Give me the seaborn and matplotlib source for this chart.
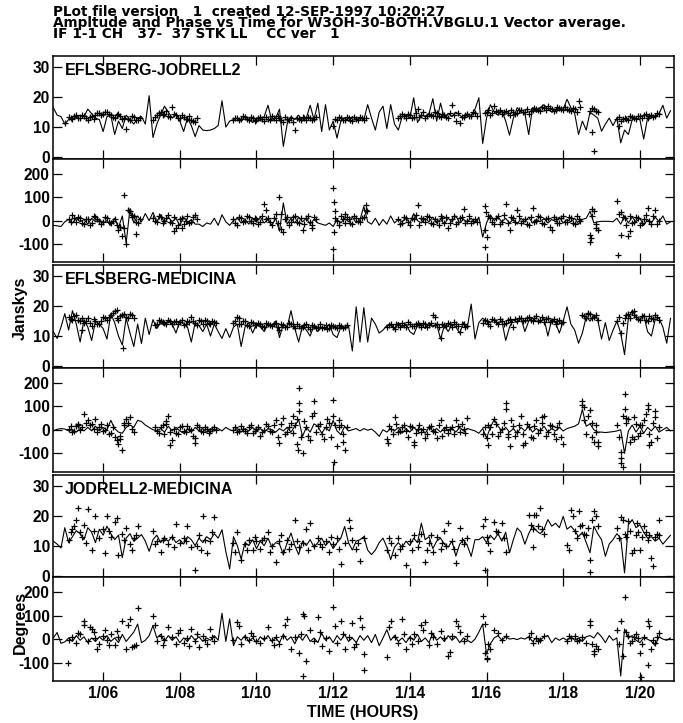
import matplotlib
matplotlib.use("Agg")
import numpy as np
import pandas as pd
import matplotlib.pyplot as plt
import seaborn as sns
from matplotlib.transforms import ScaledTranslation

# ---------------- text ----------------
title_lines = [
    "PLot file version   1  created 12-SEP-1997 10:20:27",
    "Ampltude and Phase vs Time for W3OH-30-BOTH.VBGLU.1 Vector average.",
    "IF 1-1 CH   37-  37 STK LL    CC ver   1",
]
baselines = ["EFLSBERG-JODRELL2", "EFLSBERG-MEDICINA", "JODRELL2-MEDICINA"]
amp_ticks = [0, 10, 20, 30]
phase_ticks = [-100, 0, 100, 200]
hour_ticks = [6, 8, 10, 12, 14, 16, 18, 20]
hour_labels = ["1/06", "1/08", "1/10", "1/12", "1/14", "1/16", "1/18", "1/20"]

# ---------------- model (line) sampling hours ----------------
line_hours = [
    4.7, 4.8, 4.9,
    5.0, 5.1, 5.2, 5.3, 5.4, 5.5, 5.6, 5.7, 5.8, 5.9,
    6.0, 6.1, 6.2, 6.3, 6.4, 6.5, 6.6, 6.7, 6.8, 6.9,
    7.0, 7.1, 7.2, 7.3, 7.4, 7.5, 7.6, 7.7, 7.8, 7.9,
    8.0, 8.1, 8.2, 8.3, 8.4, 8.5, 8.6, 8.7, 8.8, 8.9,
    9.0, 9.1, 9.2, 9.3, 9.4, 9.5, 9.6, 9.7, 9.8, 9.9,
    10.0, 10.1, 10.2, 10.3, 10.4, 10.5, 10.6, 10.7, 10.8, 10.9,
    11.0, 11.1, 11.2, 11.3, 11.4, 11.5, 11.6, 11.7, 11.8, 11.9,
    12.0, 12.1, 12.2, 12.3, 12.4, 12.5, 12.6, 12.7, 12.8, 12.9,
    13.0, 13.1, 13.2, 13.3, 13.4, 13.5, 13.6, 13.7, 13.8, 13.9,
    14.0, 14.1, 14.2, 14.3, 14.4, 14.5, 14.6, 14.7, 14.8, 14.9,
    15.0, 15.1, 15.2, 15.3, 15.4, 15.5, 15.6, 15.7, 15.8, 15.9,
    16.0, 16.1, 16.2, 16.3, 16.4, 16.5, 16.6, 16.7, 16.8, 16.9,
    17.0, 17.1, 17.2, 17.3, 17.4, 17.5, 17.6, 17.7, 17.8, 17.9,
    18.0, 18.1, 18.2, 18.3, 18.4, 18.5, 18.6, 18.7, 18.8, 18.9,
    19.0, 19.1, 19.2, 19.3, 19.4, 19.5, 19.6, 19.7, 19.8, 19.9,
    20.0, 20.1, 20.2, 20.3, 20.4, 20.5, 20.6, 20.7, 20.8,
]

ej_amp_model = [
    16.5, 14.0, 13.5,
    11.0, 12.5, 13.5, 13.0, 14.0, 13.5, 16.0, 14.5, 13.0, 12.5,
    8.5, 13.5, 14.0, 7.5, 12.0, 9.5, 14.0, 12.5, 11.0, 13.0,
    13.5, 11.0, 20.5, 6.5, 11.0, 14.0, 17.0, 15.0, 13.0, 14.5,
    12.0, 8.5, 13.0, 10.5, 6.8, 10.5, 9.0, 8.8, 9.0, 9.5,
    10.5, 18.8, 10.0, 12.0, 12.5, 13.0, 12.0, 13.5, 12.5, 11.5,
    13.0, 12.0, 13.5, 17.3, 12.0, 13.0, 16.0, 3.5, 11.0, 13.5,
    12.5, 14.0, 12.0, 13.0, 17.3, 12.5, 18.0, 8.5, 17.5, 9.0,
    12.0, 6.3, 12.0, 13.0, 12.0, 13.5, 12.5, 13.0, 12.5, 17.5,
    13.0, 9.0, 15.0, 17.0, 9.5, 17.5, 11.0, 9.0, 13.5, 14.0,
    13.0, 19.8, 11.5, 14.0, 13.5, 14.5, 19.5, 12.0, 18.0, 13.0,
    14.5, 13.5, 15.0, 14.0, 13.0, 14.5, 13.5, 16.0, 19.8, 4.5,
    13.0, 17.5, 15.0, 14.0, 15.5, 12.0, 7.3, 13.0, 16.5, 15.0,
    14.5, 7.5, 16.5, 15.0, 16.5, 17.5, 16.0, 15.0, 16.0, 15.5,
    16.0, 19.3, 16.5, 14.5, 7.5, 12.0, 9.0, 15.0, 14.0, 13.0,
    8.6, 11.0, 13.0, 10.5, 13.0, 4.7, 9.0, 7.5, 12.5, 13.0,
    12.5, 6.0, 13.0, 14.0, 13.5, 14.5, 17.3, 13.0, 15.5,
]
ej_phase_model = [
    -20, -22, -25,
    -5, 5, -10, 10, -5, 5, -15, 10, -5, 5,
    -10, 0, -20, 10, -30, 20, -95, 50, -10, 20,
    -5, 30, 0, 35, -5, 25, -10, 15, -5, 10,
    -20, 15, -10, 5, -15, -15, -25, -10, -15, 10,
    -20, 25, -5, -20, 0, 10, -10, 5, -15, 10,
    -5, 15, -10, 5, -20, 10, -45, 75, -15, 10,
    -10, 15, -5, 10, -15, 5, -10, -15, -20, -10,
    -25, 5, -10, 10, -5, 15, -10, 5, 60, -5,
    -15, 10, -20, 5, -15, 20, -10, 5, -5, 10,
    -10, 30, 0, -10, 10, -5, 15, -10, 5, -15,
    10, -5, 20, -10, 5, -5, 10, -10, 15, -70,
    -10, 25, 0, 15, -5, 10, -10, 5, -15, 10,
    -5, 15, -10, 5, -5, 10, -10, 5, -5, 15,
    -10, 5, -5, 10, -15, 5, 10, 40, -10, -5,
    -3, -3, -3, -5, 10, -15, 20, -10, 15, -5,
    10, -20, 5, -10, 15, -5, 20, -15, -5,
]
em_amp_model = [
    11.5, 9.2, 13.0,
    17.5, 12.0, 18.5, 14.0, 8.0, 15.5, 13.0, 8.5, 15.0, 14.0,
    12.5, 9.0, 17.5, 14.5, 10.0, 7.0, 16.0, 11.0, 6.5, 14.0,
    7.5, 16.0, 10.5, 15.5, 12.5, 14.5, 13.5, 15.0, 14.0, 11.0,
    15.0, 14.0, 13.0, 8.0, 14.5, 13.5, 11.5, 14.0, 10.0, 14.0,
    11.5, 9.2, 12.5, 9.5, 13.0, 14.0, 6.5, 13.0, 14.5, 11.0,
    14.0, 13.0, 11.5, 14.0, 13.5, 15.0, 9.5, 14.0, 13.0, 18.5,
    12.5, 8.0, 13.5, 12.0, 10.0, 13.5, 11.5, 13.0, 12.5, 14.0,
    10.5, 9.5, 13.0, 12.5, 13.5, 5.0, 19.8, 8.0, 19.5, 8.0,
    16.0, 14.0, 11.0, 12.0, 13.5, 14.0, 12.5, 14.5, 13.0, 14.0,
    11.5, 10.5, 13.5, 14.0, 12.5, 14.5, 13.0, 14.0, 9.0, 13.5,
    11.5, 14.0, 13.0, 11.0, 14.5, 13.0, 20.7, 9.0, 14.5, 16.0,
    15.0, 14.5, 15.5, 14.0, 15.0, 8.5, 13.0, 15.5, 14.5, 16.0,
    11.5, 15.0, 16.0, 15.0, 14.5, 16.0, 10.0, 15.5, 14.5, 11.0,
    15.0, 19.8, 14.0, 12.0, 7.6, 11.0, 16.5, 15.0, 17.0, 15.5,
    9.0, 14.5, 8.5, 12.0, 15.0, 11.0, 3.8, 16.0, 18.5, 16.5,
    15.5, 17.0, 11.5, 10.0, 15.5, 16.0, 13.0, 7.6, 16.0,
]
em_phase_model = [
    -5, 2, 5,
    3, -5, 0, -10, 5, -5, 10, -5, 15, -5,
    10, 0, 40, 5, -10, -15, 10, 20, 10, 40,
    35, 20, 10, 0, -5, 5, -10, 15, -5, 10,
    -5, -15, 5, -10, 10, -5, 5, -10, 5, -5,
    5, -5, 10, 0, -5, 5, -10, 5, -5, 10,
    -5, 5, -10, 5, 0, -10, 5, -5, 10, -10,
    15, 43, -28, 10, -10, 25, 15, -15, 10, -5,
    40, -5, -20, 15, -5, 0, 5, -5, 5, -2,
    3, -10, -28, 0, -10, 5, -5, 10, -15, 5,
    -10, 10, -5, 5, -15, 10, -5, 5, -10, 10,
    -5, 5, -10, 10, -5, 5, 0, -5, -15, 5,
    -35, 10, 43, 15, -5, 10, -10, 5, -15, 10,
    -5, 15, -10, 5, -5, 15, -10, 5, -5, 10,
    -5, 5, 10, 15, 25, 86, 15, 25, 0, -10,
    -10, -12, -10, -8, -5, 0, -100, -5, 20, -10,
    15, -15, 10, -5, 15, -10, 0, 10, -5,
]
jm_amp_model = [
    11.5, 10.5, 9.2,
    16.0, 11.0, 13.0, 15.0, 14.0, 12.0, 16.0, 14.5, 11.0, 15.5,
    13.5, 16.5, 14.0, 12.0, 13.5, 6.0, 12.5, 14.0, 11.5, 12.5,
    13.7, 11.5, 8.1, 12.0, 13.5, 11.0, 12.5, 11.5, 13.0, 11.0,
    12.0, 10.5, 13.0, 12.0, 10.0, 12.5, 11.0, 13.0, 12.0, 14.0,
    12.5, 15.3, 8.0, 2.2, 13.0, 10.0, 5.5, 11.0, 10.0, 12.0,
    9.0, 11.5, 10.0, 12.5, 9.5, 11.0, 10.5, 7.0, 11.0, 14.2,
    10.0, 7.0, 11.5, 10.0, 12.0, 9.5, 11.0, 12.5, 10.0, 11.5,
    9.0, 11.0, 12.5, 16.4, 11.0, 8.5, 11.5, 12.0, 13.0, 8.5,
    7.0, 8.5, 11.0, 12.5, 9.5, 5.3, 9.5, 11.0, 9.5, 11.5,
    10.0, 12.5, 11.0, 17.5, 12.0, 13.0, 9.0, 11.5, 12.5, 10.5,
    9.5, 11.5, 6.5, 10.5, 12.0, 10.0, 6.4, 12.0, 12.0, 13.0,
    11.0, 13.5, 12.0, 14.0, 11.5, 14.5, 7.6, 12.0, 15.9, 14.5,
    10.5, 14.0, 16.5, 15.0, 14.0, 15.5, 18.7, 16.5, 17.5, 16.0,
    19.8, 15.5, 16.5, 15.0, 13.0, 14.5, 11.0, 7.6, 16.5, 14.0,
    12.0, 6.4, 10.5, 12.0, 14.0, 12.5, 0.9, 17.0, 18.7, 16.0,
    17.0, 14.5, 12.5, 13.0, 11.5, 12.5, 10.5, 12.0, 13.5,
]
jm_phase_model = [
    5, 28, -18,
    -12, 5, -10, 15, -5, 10, -15, 5, -10, 10,
    -5, 15, -10, 5, -15, 20, -10, 10, 30, 64,
    -15, -5, 15, 57, 5, 20, -10, 15, -5, 10,
    -15, 5, -10, 15, -5, 10, -10, 5, -5, 15,
    -5, 110, -10, 86, -28, 10, -5, 15, -10, 5,
    -15, 10, -5, 15, -10, 5, -15, 20, -5, 10,
    -20, 15, -5, 20, -10, 5, -15, 25, -5, 10,
    -15, 15, -5, 20, -10, 5, -15, 15, -5, 15,
    -15, 20, -28, 5, 40, -5, 15, -10, 5, -15,
    10, -5, 20, -10, 5, -15, 25, -5, 10, -10,
    15, -5, 10, -15, 5, -5, -15, 0, 30, 64,
    -64, -20, 5, 15, -5, 10, 0, 3, -2, 5,
    0, 10, -10, 5, -5, 10, 15, -15, 5, -5,
    5, -5, 10, -5, 5, -10, 10, 15, 5, 28,
    10, -15, 15, -5, 5, -157, 43, 5, 15, -5,
    -15, 5, 0, -10, -28, 10, 0, -5, 5,
]

# ---------------- measured visibilities (points) ----------------
N = None
scan_hours = [
    5.1, 5.2, 5.3, 5.4, 5.5, 5.6, 5.7, 5.8, 5.9, 6.0, 6.1, 6.2, 6.3, 6.4, 6.5, 6.6, 6.7, 6.8, 6.9,
    7.3, 7.4, 7.5, 7.6, 7.7, 7.8, 7.9, 8.0, 8.1, 8.2, 8.3, 8.4, 8.5, 8.6, 8.7, 8.8, 8.9,
    9.4, 9.5, 9.6, 9.7, 9.8, 9.9, 10.0, 10.1, 10.2, 10.3,
    10.4, 10.5, 10.6, 10.7, 10.8, 10.9, 11.0, 11.1, 11.2, 11.3,
    11.4, 11.5, 11.6, 11.7, 11.8, 11.9, 12.0, 12.1, 12.2, 12.3,
    12.4, 12.5, 12.6, 12.7, 12.8,
    13.4, 13.5, 13.6, 13.7, 13.8, 13.9, 14.0, 14.1, 14.2, 14.3,
    14.4, 14.5, 14.6, 14.7, 14.8, 14.9, 15.0, 15.1, 15.2, 15.3,
    15.4, 15.5, 15.6, 15.7,
    15.9, 16.0, 16.1, 16.2, 16.3, 16.4, 16.5, 16.6, 16.7, 16.8,
    16.9, 17.0, 17.1, 17.2, 17.3, 17.4, 17.5, 17.6, 17.7, 17.8,
    17.9, 18.0, 18.1, 18.2, 18.3, 18.4, 18.5, 18.6, 18.7, 18.8, 18.9,
    19.4, 19.5, 19.6, 19.7, 19.8, 19.9, 20.0, 20.1, 20.2, 20.3, 20.4, 20.5,
]
# second integration inside each 0.1 h bin
scan_hours_mid = [
    5.15, 5.25, 5.35, 5.45, 5.55, 5.65, 5.75, 5.85, 5.95, 6.05, 6.15, 6.25, 6.35, 6.45, 6.55, 6.65, 6.75, 6.85, 6.95,
    7.35, 7.45, 7.55, 7.65, 7.75, 7.85, 7.95, 8.05, 8.15, 8.25, 8.35, 8.45, 8.55, 8.65, 8.75, 8.85, 8.95,
    9.45, 9.55, 9.65, 9.75, 9.85, 9.95, 10.05, 10.15, 10.25, 10.35,
    10.45, 10.55, 10.65, 10.75, 10.85, 10.95, 11.05, 11.15, 11.25, 11.35,
    11.45, 11.55, 11.65, 11.75, 11.85, 11.95, 12.05, 12.15, 12.25, 12.35,
    12.45, 12.55, 12.65, 12.75, 12.85,
    13.45, 13.55, 13.65, 13.75, 13.85, 13.95, 14.05, 14.15, 14.25, 14.35,
    14.45, 14.55, 14.65, 14.75, 14.85, 14.95, 15.05, 15.15, 15.25, 15.35,
    15.45, 15.55, 15.65, 15.75,
    15.95, 16.05, 16.15, 16.25, 16.35, 16.45, 16.55, 16.65, 16.75, 16.85,
    16.95, 17.05, 17.15, 17.25, 17.35, 17.45, 17.55, 17.65, 17.75, 17.85,
    17.95, 18.05, 18.15, 18.25, 18.35, 18.45, 18.55, 18.65, 18.75, 18.85, 18.95,
    19.45, 19.55, 19.65, 19.75, 19.85, 19.95, 20.05, 20.15, 20.25, 20.35, 20.45, 20.55,
]

ej_amp_data = [
    13.5, 12.8, 14.0, 13.2, 13.8, 12.5, 13.6, 14.2, 14.8, 14.5, 15.0, 14.0, 13.2, 14.5, 12.8, 9.2, 12.2, 13.5, 12.5,
    12.5, 14.0, 15.0, 14.5, 13.8, 16.8, 14.0, 13.0, 13.5, 12.8, 12.5, 11.8, N, N, N, N, N,
    12.5, 13.2, 12.8, 13.5, 12.2, 13.0, 12.5, 13.4, 12.0, 12.8,
    13.6, 12.4, 13.0, 11.8, 12.6, 13.2, 9.0, 12.8, 13.5, 12.2,
    13.0, 12.6, N, N, N, N, 10.5, 12.2, 13.0, 12.5,
    13.2, 12.0, 12.8, 13.4, 12.5,
    N, N, N, 13.0, 14.5, 13.2, 14.0, 13.5, 16.0, 14.2,
    13.0, 14.5, 13.8, 14.8, 13.5, 14.2, 13.0, 17.5, 12.0, 11.2,
    13.5, 14.5, 13.8, 14.6,
    N, 15.0, 14.2, 17.0, 15.0, 14.5, 15.5, 14.0, 15.2, 14.8,
    15.6, 15.0, 14.5, 15.8, 16.2, 15.5, 16.5, 17.0, 16.2, 15.6,
    16.4, 15.8, 16.0, 15.4, 16.2, 18.8, N, N, 15.5, 16.2, 15.0,
    12.8, 12.0, 13.2, 12.5, 13.5, 12.8, 13.6, 14.0, 13.2, 14.2, 13.8, 14.5,
]
ej_amp_mid = [
    13.0, 13.6, 12.9, 14.1, 13.0, 13.4, 12.7, 14.6, 14.0, 15.2, 14.3, 13.5, 14.2, 13.6, 13.0, 12.6, 13.8, 12.4, 13.0,
    13.5, 14.6, 14.2, 15.3, 13.4, 14.4, 13.2, 14.0, 12.8, 13.6, 12.0, 12.9, N, N, N, N, N,
    13.0, 12.4, 13.6, 12.7, 13.3, 12.0, 13.1, 12.6, 13.5, 12.3,
    12.9, 13.6, 12.2, 13.3, 12.5, 11.6, 13.0, 12.2, 12.9, 13.4,
    12.4, 13.3, N, N, N, N, 12.8, 13.4, 12.2, 13.5,
    12.5, 13.3, 12.2, 12.9, 13.2,
    N, N, N, 13.8, 13.6, 14.3, 13.2, 14.6, 13.4, 15.0,
    13.6, 14.0, 15.2, 13.7, 14.5, 13.3, 14.6, 13.9, 14.8, 13.4,
    14.2, 13.6, 15.0, 13.8,
    14.8, 15.6, 14.8, 15.4, 15.8, 15.0, 14.6, 15.6, 14.5, 15.6,
    15.2, 16.0, 15.4, 16.4, 15.6, 16.8, 15.8, 16.4, 15.5, 16.6,
    15.9, 16.6, 15.7, 16.3, 15.2, 16.8, N, N, 16.4, 15.3, N,
    13.4, 12.6, 12.8, 13.6, 12.9, 13.7, 13.1, 14.3, 13.8, 13.5, 14.6, N,
]
ej_amp_extra_hours = [18.75, 18.8, 19.45, 5.0]
ej_amp_extra = [8.5, 2.0, 10.5, 11.3]

ej_phase_data = [
    5, 25, -5, 10, -15, 5, -10, 15, 0, -5, 10, -10, 5, -40, -65, -100, 40, 20, -10,
    10, -5, 15, 0, 25, -10, -30, 5, -15, 20, -5, 25, N, N, N, N, N,
    5, -20, 10, 0, 15, -10, 5, -5, 70, 10,
    -20, 30, 100, -50, 15, -5, 20, -10, -40, 10,
    -5, 15, N, N, N, N, -120, 0, 20, -10,
    5, -15, 10, -5, 15,
    N, N, N, 5, -10, 10, -20, 5, 65, 10,
    -5, 15, -15, 0, 20, -10, -30, 5, -15, 10,
    50, 0, -10, 5,
    N, -70, 10, -15, 20, -5, 70, -40, 10, 45,
    -10, 5, -20, 55, 0, 15, -15, 10, -40, 5,
    -10, 20, -5, 10, -15, 5, N, N, -60, 40, -40,
    85, -60, 10, -65, -10, 15, -20, 5, 55, -15, 45, 0,
]
ej_phase_mid = [
    -5, 10, 15, -10, 5, -20, 20, 5, -15, 15, -5, 0, -20, -25, -30, 45, 15, -5, 5,
    0, 20, -10, 10, -5, 15, -20, 10, 0, -10, 15, 5, N, N, N, N, N,
    -10, 15, -5, 20, 0, 10, -15, 20, 5, -5,
    10, -10, 30, 5, -20, 15, -5, 10, -15, 20,
    -20, 5, N, N, N, N, 10, -20, 5, 15,
    -10, 20, 0, 10, 45,
    N, N, N, -15, 15, -5, 10, 25, -20, 5,
    20, -10, 5, -20, 10, 15, -10, 20, -5, 15,
    -10, 20, 0, -5,
    -40, 20, -5, 10, -15, 25, -10, 15, -5, 20,
    0, -15, 15, -5, 20, -10, 5, -25, 15, -10,
    10, -5, 15, -10, 20, 0, N, N, 20, -15, N,
    30, 15, -20, 20, -5, 10, -10, 25, 0, 20, -15, N,
]
ej_phase_extra_hours = [6.55, 6.45, 6.85, 6.75, 12.0, 12.01, 12.02, 12.05, 12.3, 12.85, 12.87,
                        15.97, 15.98, 15.96, 18.7, 18.72, 18.75, 18.85, 19.42, 19.5, 19.75,
                        10.25, 10.65, 11.45, 7.85, 8.05]
ej_phase_extra = [108, -25, -55, 25, 140, 80, -50, 40, 30, 65, 40,
                  60, 35, -110, -90, -75, 50, -30, -145, 35, -45,
                  45, -35, -30, -45, -30]

em_amp_data = [
    16.5, 15.5, 17.0, 15.0, 14.5, 16.0, 13.5, 15.0, 14.0, 16.5, 15.5, 17.0, 18.5, 15.5, 17.0, 16.5, 17.5, 16.0, N,
    N, 14.0, 15.0, 14.5, 15.5, 14.0, 15.2, 14.6, 13.8, 15.0, 16.4, 14.5, 15.5, 14.2, 15.0, 14.0, 14.8,
    14.5, 16.4, 14.0, 15.0, 13.5, 14.5, 13.8, 14.2, 13.0, 14.0,
    13.5, 14.5, 12.0, 13.8, 13.2, 14.0, 12.8, 13.5, 13.0, 14.0,
    12.5, 13.5, 13.0, 12.8, 13.6, 12.6, 13.4, 12.8, 13.5, 13.0,
    N, N, N, N, N,
    13.0, 14.0, 12.5, 13.8, 14.5, 13.2, 14.0, 13.5, 14.5, 13.0,
    14.2, 13.6, 17.0, 14.0, 9.5, 13.8, 14.5, 13.2, 14.2, 11.5,
    14.0, 13.5, N, N,
    14.5, 15.0, 13.5, 15.5, 14.0, 15.2, 14.5, 15.8, 13.0, 15.0,
    16.0, 15.5, 16.5, 15.0, 16.8, 15.5, 14.8, 16.0, 15.2, 14.0,
    15.5, 14.8, N, N, N, N, 17.0, 16.2, 17.5, 16.5, 15.5,
    15.0, 11.0, 16.0, 17.5, 18.0, 16.5, 15.5, 16.8, 15.0, 16.0, 17.2, 15.5,
]
em_amp_mid = [
    15.8, 16.8, 15.4, 16.2, 15.0, 14.5, 15.8, 14.2, 15.2, 16.0, 16.5, 17.8, 16.2, 16.8, 17.5, 16.2, 17.0, N, N,
    13.8, 15.4, 14.8, 14.0, 15.0, 14.6, 13.9, 15.4, 14.2, 14.8, 15.2, 13.8, 14.9, 15.3, 14.4, 15.2, 14.5,
    15.0, 14.2, 15.2, 13.8, 14.6, 13.6, 14.5, 13.4, 14.3, 13.6,
    14.2, 13.0, 14.0, 13.0, 14.4, 13.5, 14.0, 12.6, 13.8, 13.2,
    13.6, 12.8, 14.0, 13.2, 12.5, 13.6, 12.9, 13.8, 12.7, 13.6,
    N, N, N, N, N,
    13.6, 13.2, 14.0, 13.0, 13.8, 14.6, 13.4, 14.2, 13.6, 14.4,
    13.2, 14.5, 13.6, 13.0, 14.2, 13.4, 14.0, 14.6, 13.4, 14.2,
    13.0, N, N, N,
    15.4, 14.2, 15.6, 14.6, 15.8, 14.2, 15.4, 14.6, 15.6, 16.2,
    15.0, 16.2, 15.4, 16.0, 15.2, 16.4, 15.6, 14.6, 15.8, 15.0,
    14.4, N, N, N, N, N, 16.8, 17.4, 16.0, 17.2, N,
    16.5, 14.5, 17.0, 16.2, 17.2, 15.8, 16.6, 15.4, 16.8, 15.8, 16.4, N,
]
em_amp_extra_hours = [6.52, 5.45, 6.35, 9.55, 14.65, 18.65, 19.85]
em_amp_extra = [5.9, 12.0, 18.7, 16.0, 16.5, 17.8, 18.5]

em_phase_data = [
    5, -10, 15, 0, 68, 40, 25, 45, 10, -5, 20, -15, -30, -60, -85, 45, 55, -10, N,
    N, -5, 10, -20, 57, -45, -15, 10, -5, 15, 0, -55, 10, -10, 5, -5, 10,
    0, -10, 15, -5, 10, -15, 5, -25, 0, 15,
    -10, 40, -55, 50, -10, 30, 20, 115, -100, 10,
    -45, 120, 15, -20, 10, 30, 128, -70, 20, -85,
    N, N, N, N, N,
    -40, 5, 55, -10, 10, -5, 15, -50, 5, -10,
    -35, 10, -5, -35, 40, 0, -15, 10, 40, -10,
    5, 50, N, N,
    -20, -35, 10, 45, -25, 5, 114, -70, 15, -10,
    57, -55, 10, -35, 40, 0, 60, -10, 15, -40,
    30, -60, N, N, N, N, 105, -20, 85, -50, -70,
    20, -93, 153, 45, -30, 25, -15, 40, 107, -50, 80, 10,
]
em_phase_mid = [
    15, -5, 25, 10, 30, 20, 5, -10, 25, 0, -20, 10, -45, -25, 20, 30, 5, N, N,
    10, -15, 20, 25, -10, 5, -20, 15, -10, 5, -25, 20, -5, 10, -15, 5, 0,
    10, -5, 5, -15, 20, -5, 10, -10, 25, -5,
    20, -30, 25, -20, 10, -15, 45, -30, 35, -25,
    60, -10, 25, -40, 45, -30, 20, 40, -50, 10,
    N, N, N, N, N,
    15, -20, 25, -5, 20, -30, 10, -15, 20, 5,
    -20, 15, -10, 20, -25, 10, 5, -20, 15, 25,
    -15, N, N, N,
    10, 20, -20, 25, -10, 30, -30, 40, -25, 20,
    -20, 25, -30, 15, -15, 30, -25, 20, -20, 10,
    -30, N, N, N, N, N, 40, 60, -30, 20, N,
    -30, 60, 30, -50, 55, -25, 20, 65, -20, 30, -35, N,
]
em_phase_extra_hours = [6.45, 6.55, 5.35, 7.65, 7.75, 8.4, 11.1, 11.12, 11.05, 11.08,
                        11.5, 12.0, 12.02, 12.25, 12.15, 10.95, 13.42, 14.1,
                        16.05, 16.5, 16.55, 16.95, 17.45, 18.5, 18.55, 18.75, 18.9, 18.85,
                        19.5, 19.52, 19.55, 19.6, 19.65, 20.2, 20.25, 20.4, 19.85, 20.0]
em_phase_extra = [-40, 30, 20, 35, -65, -35, 175, 78, -60, -86,
                  70, 57, -135, -20, 10, 60, -55, -64,
                  -64, 86, -20, -64, 55, 120, 95, 30, -50, -10,
                  -121, -143, -160, 86, 50, 86, -64, 55, -40, 20]

jm_amp_data = [
    12.0, 15.5, 18.5, 14.5, 17.0, 22.2, 8.4, 20.0, 12.5, 15.5, 19.8, 13.0, 17.8, 7.0, 14.0, 16.0, 10.5, 12.5, 16.7,
    14.8, 11.5, 7.8, 12.5, 10.5, 13.0, 17.3, 11.0, 12.5, 16.4, 9.5, 2.0, 13.5, 19.8, 7.6, 11.5, 19.5,
    11.0, 14.5, 5.3, 10.5, 12.0, 8.5, 11.5, 9.0, 12.5, 14.5,
    10.0, 4.5, 11.5, 8.0, 12.0, 10.5, 18.7, 9.5, 11.0, 15.5,
    17.5, 10.0, 12.5, 9.5, 11.5, 8.0, 10.5, 12.5, 4.0, 11.0,
    18.7, 12.0, 9.0, 5.0, 12.5,
    8.5, 11.0, 7.0, 12.5, 10.0, 3.5, 11.5, 13.5, 9.5, 14.0,
    4.5, 11.0, 8.0, 13.0, 9.0, 15.0, 17.5, 11.5, 4.2, 16.0,
    10.5, 12.5, N, N,
    16.5, 13.0, 8.1, 18.0, 14.5, 17.5, 8.0, N, N, N,
    N, N, 20.3, 15.5, 20.3, 22.5, 14.0, N, N, N,
    N, N, 10.3, 22.0, 15.0, 21.5, 17.0, 13.5, 5.3, 21.5, 16.5,
    16.0, 19.5, 14.0, 18.2, 7.6, 13.5, 8.7, 16.5, 12.0, 5.7, 13.0, 18.7,
]
jm_amp_extra_hours = [
    5.35, 5.25, 5.45, 5.75, 6.05, 6.15, 6.35, 6.55, 6.75, 5.55, 5.15, 6.85,
    7.55, 7.85, 8.15, 8.45, 8.65, 8.85, 8.55, 7.35,
    9.75, 10.15, 10.35, 10.65, 11.05, 11.35, 11.65, 11.95, 12.15, 12.45, 12.65, 9.45, 9.95, 10.85,
    13.45, 13.75, 14.05, 14.25, 14.55, 14.85, 15.15, 15.35, 14.45, 14.95,
    15.97, 15.95, 16.05, 16.25, 16.45, 17.15, 17.25, 17.35, 17.22, 17.45,
    18.15, 18.25, 18.35, 18.45, 18.55, 18.7, 18.75, 18.85, 18.65,
    19.45, 19.55, 19.65, 19.75, 19.85, 19.95, 20.05, 20.15, 20.25, 20.35, 20.45, 20.5, 19.92,
]
jm_amp_extra = [
    22.6, 16.5, 13.0, 15.0, 7.6, 15.0, 19.2, 12.0, 8.5, 11.0, 14.5, 13.5,
    12.0, 9.5, 11.5, 10.0, 12.0, 14.5, 8.5, 10.5,
    8.5, 12.0, 8.0, 13.5, 11.5, 8.5, 10.5, 13.0, 9.0, 16.0, 11.0, 8.0, 13.0, 9.0,
    12.5, 9.0, 8.5, 11.5, 13.5, 11.0, 9.0, 12.0, 8.5, 10.0,
    2.0, 19.0, 11.0, 15.0, 12.5, 17.0, 20.3, 16.5, 9.6, 15.5,
    8.5, 20.0, 12.5, 16.5, 14.0, 1.1, 18.5, 20.0, 16.0,
    12.5, 18.7, 13.0, 15.0, 8.5, 14.5, 13.0, 14.5, 13.5, 3.1, 14.0, 13.5, 17.5,
]

jm_phase_data = [
    -5, 10, -15, 20, 78, -10, 45, 5, -20, 15, -5, 20, -25, 10, 78, -40, 86, -30, 131,
    100, -10, 15, -5, 50, 10, -20, 40, -15, 5, 45, -10, -35, 15, -20, 45, -10,
    -5, 71, -20, 10, -5, 15, -10, -15, 5, 50,
    -5, 10, -20, 15, 86, -40, 10, -57, 107, -93,
    40, -10, 93, -30, 5, -50, 136, -15, 78, -40,
    10, 70, -20, 90, -64,
    -78, 78, 10, -15, 86, -43, 5, 20, -10, 60,
    71, -25, 10, -20, 35, 5, -71, 15, 78, 30,
    -10, 15, N, N,
    100, -80, -40, 40, 25, -5, 15, N, N, N,
    N, N, 10, -15, 5, -5, 15, N, N, N,
    N, N, -10, 5, 15, -5, 10, -15, 78, -64, -40,
    40, 78, 181, 15, -10, 20, -57, 10, 78, -40, -15, 25,
]
jm_phase_extra_hours = [
    5.08, 5.5, 5.65, 5.75, 5.85, 6.05, 6.15, 6.35, 6.65, 6.75, 6.85, 5.35,
    7.35, 7.55, 7.95, 8.25, 8.45, 8.65, 8.85,
    11.2, 11.25, 9.55, 10.75, 11.15, 11.65, 12.05, 12.25, 12.8, 12.75, 10.45, 9.85, 12.55,
    13.45, 13.85, 14.35, 15.05, 15.25, 14.55, 14.05,
    15.95, 15.97, 16.0, 16.05, 17.15, 17.35, 18.15, 18.35, 18.7, 18.75, 18.8, 18.85,
    19.45, 19.55, 19.65, 19.75, 19.85, 20.05, 20.2, 20.25, 20.35, 20.45, 19.95, 20.04,
]
jm_phase_extra = [
    -100, 60, 50, 30, -40, 40, -25, 35, 60, -35, -25, 25,
    60, -25, 25, -30, 20, -5, 10,
    -157, 100, 55, 60, 20, 30, 57, 20, -131, 50, -25, 25, -35,
    50, 20, 40, -55, 55, 25, -20,
    65, -57, -86, -20, 25, -10, 15, -10, 60, -20, -50, -30,
    -20, -71, 30, -15, 10, -20, -111, 57, -5, 10, 5, -160,
]

# ---------------- styling ----------------
sns.set_theme(style="white")
plt.rcParams["font.family"] = ["Liberation Sans", "DejaVu Sans"]
plt.rcParams["font.weight"] = "bold"

FS = 11.5
W, H = 683.0, 723.0
fig = plt.figure(figsize=(W / 100, H / 100), dpi=100)
fig.patch.set_facecolor("white")

AX_L, AX_R = 53.3, 674.0
panel_px = [(56.0, 158.7), (158.7, 262.3), (265.0, 367.7),
            (367.7, 471.5), (474.5, 577.3), (577.3, 680.7)]

series = [
    (ej_amp_model, ej_amp_data, ej_amp_mid, ej_amp_extra_hours, ej_amp_extra, "amp", baselines[0]),
    (ej_phase_model, ej_phase_data, ej_phase_mid, ej_phase_extra_hours, ej_phase_extra, "phase", None),
    (em_amp_model, em_amp_data, em_amp_mid, em_amp_extra_hours, em_amp_extra, "amp", baselines[1]),
    (em_phase_model, em_phase_data, em_phase_mid, em_phase_extra_hours, em_phase_extra, "phase", None),
    (jm_amp_model, jm_amp_data, None, jm_amp_extra_hours, jm_amp_extra, "amp", baselines[2]),
    (jm_phase_model, jm_phase_data, None, jm_phase_extra_hours, jm_phase_extra, "phase", None),
]

for i, ((top, bot), (model, data, mid, xh, xv, kind, label)) in enumerate(zip(panel_px, series)):
    if (len(model) != len(line_hours) or len(data) != len(scan_hours) or len(xh) != len(xv)
            or (mid is not None and len(mid) != len(scan_hours_mid))):
        raise ValueError(f"length mismatch in panel {i}")
    ax = fig.add_axes([AX_L / W, 1 - bot / H, (AX_R - AX_L) / W, (bot - top) / H])
    ax.set_facecolor("white")

    hours = scan_hours + xh
    vals = data + xv
    if mid is not None:
        hours = hours + scan_hours_mid
        vals = vals + mid
    line_df = pd.DataFrame({"hour": line_hours, "value": model})
    pts_df = pd.DataFrame({"hour": hours,
                           "value": pd.to_numeric(pd.Series(vals, dtype="object"), errors="coerce")}).dropna()

    sns.lineplot(data=line_df, x="hour", y="value", ax=ax, color="black",
                 linewidth=0.8, estimator=None, sort=False, zorder=2)
    sns.scatterplot(data=pts_df, x="hour", y="value", ax=ax, marker="+", s=24,
                    color="black", linewidth=0.9, zorder=3)

    ax.set_xlim(4.70, 20.89)
    if kind == "amp":
        ax.set_ylim(-0.6, 33.8)
        ax.set_yticks(amp_ticks)
        ax.set_yticklabels([str(t) for t in amp_ticks])
    else:
        ax.set_ylim(-177, 263)
        ax.set_yticks(phase_ticks)
        ax.set_yticklabels([str(t) for t in phase_ticks])

    ax.set_xticks(hour_ticks)
    if i == 5:
        ax.set_xticklabels(hour_labels)
        shift = ScaledTranslation(-10 / 100, 0, fig.dpi_scale_trans)
        for lab in ax.get_xticklabels():
            lab.set_transform(lab.get_transform() + shift)
    else:
        ax.set_xticklabels([])

    ax.set_xlabel("")
    ax.set_ylabel("")
    ax.grid(False)
    ax.tick_params(axis="both", direction="in", length=6.5, width=0.9, color="black",
                   top=True, right=True, bottom=True, left=True,
                   labelsize=FS - 0.3, labelcolor="black")
    ax.tick_params(axis="y", pad=2.5)
    ax.tick_params(axis="x", pad=3.5)
    for lab in ax.get_yticklabels() + ax.get_xticklabels():
        lab.set_fontweight("bold")
    for sp in ax.spines.values():
        sp.set_visible(True)
        sp.set_color("black")
        sp.set_linewidth(1.1)

    if label:
        fig.text(65 / W, 1 - (top + 19.0) / H, label, ha="left", va="baseline",
                 fontsize=FS, fontweight="bold", color="black", zorder=5)

# titles: tightly stacked lines, wide bold face
for txt, base in zip(title_lines, [15.8, 27.0, 38.4]):
    fig.text(53.3 / W, 1 - base / H, txt, ha="left", va="baseline",
             fontsize=9.8, fontweight="bold", color="black",
             family=["DejaVu Sans", "Liberation Sans"])

fig.text(20 / W, 1 - 308 / H, "Janskys", rotation=90, ha="center", va="center",
         fontsize=FS, fontweight="bold", color="black")
fig.text(20 / W, 1 - 622 / H, "Degrees", rotation=90, ha="center", va="center",
         fontsize=FS, fontweight="bold", color="black")
fig.text(363 / W, 1 - 712 / H, "TIME (HOURS)", ha="center", va="center",
         fontsize=FS, fontweight="bold", color="black")

fig.savefig("out.png", dpi=100, facecolor="white")
